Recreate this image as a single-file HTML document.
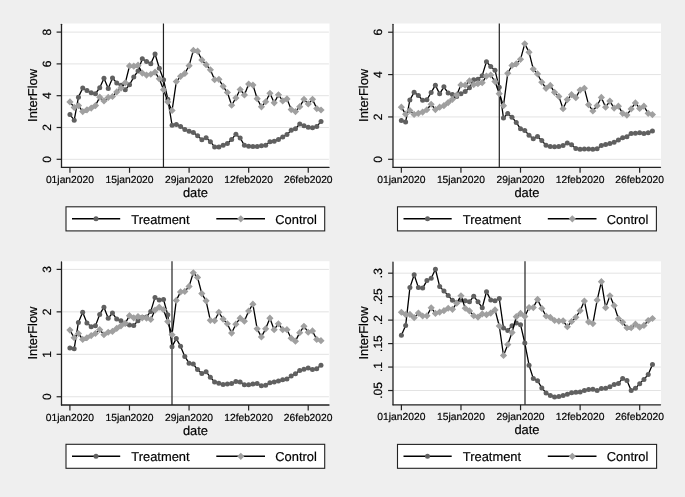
<!DOCTYPE html>
<html><head><meta charset="utf-8"><style>
html,body{margin:0;padding:0;background:#efefef;}
svg{display:block;will-change:transform;font-family:"Liberation Sans", sans-serif;}
text{fill:#000;stroke:#000;stroke-width:0.18px;text-rendering:geometricPrecision;}
</style></head><body>
<svg width="685" height="497" viewBox="0 0 685 497">
<rect x="0" y="0" width="685" height="497" fill="#efefef"/>
<rect x="61.5" y="23.5" width="268" height="143.9" fill="#fff"/>
<line x1="62.2" y1="159.3" x2="328.9" y2="159.3" stroke="#e3e3e3" stroke-width="1"/>
<line x1="62.2" y1="127.5" x2="328.9" y2="127.5" stroke="#e3e3e3" stroke-width="1"/>
<line x1="62.2" y1="95.7" x2="328.9" y2="95.7" stroke="#e3e3e3" stroke-width="1"/>
<line x1="62.2" y1="63.9" x2="328.9" y2="63.9" stroke="#e3e3e3" stroke-width="1"/>
<line x1="62.2" y1="32.1" x2="328.9" y2="32.1" stroke="#e3e3e3" stroke-width="1"/>
<line x1="163.45" y1="23.5" x2="163.45" y2="167.4" stroke="#222" stroke-width="1.2"/>
<polyline points="69.95,114.62 74.21,120.19 78.46,97.13 82.72,88.07 86.97,90.45 91.23,92.84 95.48,93.63 99.74,87.75 103.99,78.21 108.25,88.39 112.5,77.89 116.76,82.98 121.01,85.21 125.27,89.82 129.53,84.73 133.78,77.1 138.04,70.9 142.29,58.81 146.55,61.52 150.8,63.74 155.06,54.04 159.31,68.19 163.57,79.8 167.82,99.2 172.08,125.27 176.33,124.48 180.59,126.39 184.85,129.41 189.1,131.32 193.36,132.43 197.61,135.77 201.87,139.74 206.12,137.68 210.38,141.65 214.63,146.9 218.89,146.9 223.14,145.31 227.4,143.4 231.66,139.43 235.91,134.18 240.17,137.99 244.42,145.31 248.68,146.26 252.93,146.58 257.19,146.42 261.44,145.63 265.7,145.15 269.95,141.65 274.21,141.17 278.46,139.43 282.72,136.88 286.98,134.5 291.23,130.36 295.49,128.77 299.74,124 304,125.75 308.25,127.18 312.51,127.82 316.76,126.39 321.02,121.62" fill="none" stroke="#000" stroke-width="1.3" stroke-linejoin="round"/>
<circle cx="69.95" cy="114.62" r="2.5" fill="#606060"/>
<circle cx="74.21" cy="120.19" r="2.5" fill="#606060"/>
<circle cx="78.46" cy="97.13" r="2.5" fill="#606060"/>
<circle cx="82.72" cy="88.07" r="2.5" fill="#606060"/>
<circle cx="86.97" cy="90.45" r="2.5" fill="#606060"/>
<circle cx="91.23" cy="92.84" r="2.5" fill="#606060"/>
<circle cx="95.48" cy="93.63" r="2.5" fill="#606060"/>
<circle cx="99.74" cy="87.75" r="2.5" fill="#606060"/>
<circle cx="103.99" cy="78.21" r="2.5" fill="#606060"/>
<circle cx="108.25" cy="88.39" r="2.5" fill="#606060"/>
<circle cx="112.5" cy="77.89" r="2.5" fill="#606060"/>
<circle cx="116.76" cy="82.98" r="2.5" fill="#606060"/>
<circle cx="121.01" cy="85.21" r="2.5" fill="#606060"/>
<circle cx="125.27" cy="89.82" r="2.5" fill="#606060"/>
<circle cx="129.53" cy="84.73" r="2.5" fill="#606060"/>
<circle cx="133.78" cy="77.1" r="2.5" fill="#606060"/>
<circle cx="138.04" cy="70.9" r="2.5" fill="#606060"/>
<circle cx="142.29" cy="58.81" r="2.5" fill="#606060"/>
<circle cx="146.55" cy="61.52" r="2.5" fill="#606060"/>
<circle cx="150.8" cy="63.74" r="2.5" fill="#606060"/>
<circle cx="155.06" cy="54.04" r="2.5" fill="#606060"/>
<circle cx="159.31" cy="68.19" r="2.5" fill="#606060"/>
<circle cx="163.57" cy="79.8" r="2.5" fill="#606060"/>
<circle cx="167.82" cy="99.2" r="2.5" fill="#606060"/>
<circle cx="172.08" cy="125.27" r="2.5" fill="#606060"/>
<circle cx="176.33" cy="124.48" r="2.5" fill="#606060"/>
<circle cx="180.59" cy="126.39" r="2.5" fill="#606060"/>
<circle cx="184.85" cy="129.41" r="2.5" fill="#606060"/>
<circle cx="189.1" cy="131.32" r="2.5" fill="#606060"/>
<circle cx="193.36" cy="132.43" r="2.5" fill="#606060"/>
<circle cx="197.61" cy="135.77" r="2.5" fill="#606060"/>
<circle cx="201.87" cy="139.74" r="2.5" fill="#606060"/>
<circle cx="206.12" cy="137.68" r="2.5" fill="#606060"/>
<circle cx="210.38" cy="141.65" r="2.5" fill="#606060"/>
<circle cx="214.63" cy="146.9" r="2.5" fill="#606060"/>
<circle cx="218.89" cy="146.9" r="2.5" fill="#606060"/>
<circle cx="223.14" cy="145.31" r="2.5" fill="#606060"/>
<circle cx="227.4" cy="143.4" r="2.5" fill="#606060"/>
<circle cx="231.66" cy="139.43" r="2.5" fill="#606060"/>
<circle cx="235.91" cy="134.18" r="2.5" fill="#606060"/>
<circle cx="240.17" cy="137.99" r="2.5" fill="#606060"/>
<circle cx="244.42" cy="145.31" r="2.5" fill="#606060"/>
<circle cx="248.68" cy="146.26" r="2.5" fill="#606060"/>
<circle cx="252.93" cy="146.58" r="2.5" fill="#606060"/>
<circle cx="257.19" cy="146.42" r="2.5" fill="#606060"/>
<circle cx="261.44" cy="145.63" r="2.5" fill="#606060"/>
<circle cx="265.7" cy="145.15" r="2.5" fill="#606060"/>
<circle cx="269.95" cy="141.65" r="2.5" fill="#606060"/>
<circle cx="274.21" cy="141.17" r="2.5" fill="#606060"/>
<circle cx="278.46" cy="139.43" r="2.5" fill="#606060"/>
<circle cx="282.72" cy="136.88" r="2.5" fill="#606060"/>
<circle cx="286.98" cy="134.5" r="2.5" fill="#606060"/>
<circle cx="291.23" cy="130.36" r="2.5" fill="#606060"/>
<circle cx="295.49" cy="128.77" r="2.5" fill="#606060"/>
<circle cx="299.74" cy="124" r="2.5" fill="#606060"/>
<circle cx="304" cy="125.75" r="2.5" fill="#606060"/>
<circle cx="308.25" cy="127.18" r="2.5" fill="#606060"/>
<circle cx="312.51" cy="127.82" r="2.5" fill="#606060"/>
<circle cx="316.76" cy="126.39" r="2.5" fill="#606060"/>
<circle cx="321.02" cy="121.62" r="2.5" fill="#606060"/>
<polyline points="69.95,101.9 74.21,107.47 78.46,105.56 82.72,111.6 86.97,109.85 91.23,108.1 95.48,105.56 99.74,97.13 103.99,100.95 108.25,97.45 112.5,96.5 116.76,91.88 121.01,88.07 125.27,82.82 129.53,65.97 133.78,66.13 138.04,65.17 142.29,73.12 146.55,75.03 150.8,74.24 155.06,72.17 159.31,78.85 163.57,89.66 167.82,101.9 172.08,110.49 176.33,81.55 180.59,76.3 184.85,73.44 189.1,65.65 193.36,50.39 197.61,51.18 201.87,59.93 206.12,64.7 210.38,69.78 214.63,79.64 218.89,79.32 223.14,86.32 227.4,92.52 231.66,105.24 235.91,97.93 240.17,89.5 244.42,94.91 248.68,84.09 252.93,85.05 257.19,98.72 261.44,106.83 265.7,101.74 269.95,93.31 274.21,102.86 278.46,94.75 282.72,100.95 286.98,98.88 291.23,109.53 295.49,111.6 299.74,106.67 304,99.36 308.25,103.97 312.51,99.36 316.76,108.58 321.02,110.01" fill="none" stroke="#000" stroke-width="1.3" stroke-linejoin="round"/>
<path d="M69.95 98.3l3.6 3.6l-3.6 3.6l-3.6 -3.6zM74.21 103.87l3.6 3.6l-3.6 3.6l-3.6 -3.6zM78.46 101.96l3.6 3.6l-3.6 3.6l-3.6 -3.6zM82.72 108l3.6 3.6l-3.6 3.6l-3.6 -3.6zM86.97 106.25l3.6 3.6l-3.6 3.6l-3.6 -3.6zM91.23 104.5l3.6 3.6l-3.6 3.6l-3.6 -3.6zM95.48 101.96l3.6 3.6l-3.6 3.6l-3.6 -3.6zM99.74 93.53l3.6 3.6l-3.6 3.6l-3.6 -3.6zM103.99 97.35l3.6 3.6l-3.6 3.6l-3.6 -3.6zM108.25 93.85l3.6 3.6l-3.6 3.6l-3.6 -3.6zM112.5 92.9l3.6 3.6l-3.6 3.6l-3.6 -3.6zM116.76 88.28l3.6 3.6l-3.6 3.6l-3.6 -3.6zM121.01 84.47l3.6 3.6l-3.6 3.6l-3.6 -3.6zM125.27 79.22l3.6 3.6l-3.6 3.6l-3.6 -3.6zM129.53 62.37l3.6 3.6l-3.6 3.6l-3.6 -3.6zM133.78 62.53l3.6 3.6l-3.6 3.6l-3.6 -3.6zM138.04 61.57l3.6 3.6l-3.6 3.6l-3.6 -3.6zM142.29 69.52l3.6 3.6l-3.6 3.6l-3.6 -3.6zM146.55 71.43l3.6 3.6l-3.6 3.6l-3.6 -3.6zM150.8 70.64l3.6 3.6l-3.6 3.6l-3.6 -3.6zM155.06 68.57l3.6 3.6l-3.6 3.6l-3.6 -3.6zM159.31 75.25l3.6 3.6l-3.6 3.6l-3.6 -3.6zM163.57 86.06l3.6 3.6l-3.6 3.6l-3.6 -3.6zM167.82 98.3l3.6 3.6l-3.6 3.6l-3.6 -3.6zM172.08 106.89l3.6 3.6l-3.6 3.6l-3.6 -3.6zM176.33 77.95l3.6 3.6l-3.6 3.6l-3.6 -3.6zM180.59 72.7l3.6 3.6l-3.6 3.6l-3.6 -3.6zM184.85 69.84l3.6 3.6l-3.6 3.6l-3.6 -3.6zM189.1 62.05l3.6 3.6l-3.6 3.6l-3.6 -3.6zM193.36 46.79l3.6 3.6l-3.6 3.6l-3.6 -3.6zM197.61 47.58l3.6 3.6l-3.6 3.6l-3.6 -3.6zM201.87 56.33l3.6 3.6l-3.6 3.6l-3.6 -3.6zM206.12 61.1l3.6 3.6l-3.6 3.6l-3.6 -3.6zM210.38 66.18l3.6 3.6l-3.6 3.6l-3.6 -3.6zM214.63 76.04l3.6 3.6l-3.6 3.6l-3.6 -3.6zM218.89 75.72l3.6 3.6l-3.6 3.6l-3.6 -3.6zM223.14 82.72l3.6 3.6l-3.6 3.6l-3.6 -3.6zM227.4 88.92l3.6 3.6l-3.6 3.6l-3.6 -3.6zM231.66 101.64l3.6 3.6l-3.6 3.6l-3.6 -3.6zM235.91 94.33l3.6 3.6l-3.6 3.6l-3.6 -3.6zM240.17 85.9l3.6 3.6l-3.6 3.6l-3.6 -3.6zM244.42 91.31l3.6 3.6l-3.6 3.6l-3.6 -3.6zM248.68 80.49l3.6 3.6l-3.6 3.6l-3.6 -3.6zM252.93 81.45l3.6 3.6l-3.6 3.6l-3.6 -3.6zM257.19 95.12l3.6 3.6l-3.6 3.6l-3.6 -3.6zM261.44 103.23l3.6 3.6l-3.6 3.6l-3.6 -3.6zM265.7 98.14l3.6 3.6l-3.6 3.6l-3.6 -3.6zM269.95 89.72l3.6 3.6l-3.6 3.6l-3.6 -3.6zM274.21 99.26l3.6 3.6l-3.6 3.6l-3.6 -3.6zM278.46 91.15l3.6 3.6l-3.6 3.6l-3.6 -3.6zM282.72 97.35l3.6 3.6l-3.6 3.6l-3.6 -3.6zM286.98 95.28l3.6 3.6l-3.6 3.6l-3.6 -3.6zM291.23 105.93l3.6 3.6l-3.6 3.6l-3.6 -3.6zM295.49 108l3.6 3.6l-3.6 3.6l-3.6 -3.6zM299.74 103.07l3.6 3.6l-3.6 3.6l-3.6 -3.6zM304 95.76l3.6 3.6l-3.6 3.6l-3.6 -3.6zM308.25 100.37l3.6 3.6l-3.6 3.6l-3.6 -3.6zM312.51 95.76l3.6 3.6l-3.6 3.6l-3.6 -3.6zM316.76 104.98l3.6 3.6l-3.6 3.6l-3.6 -3.6zM321.02 106.41l3.6 3.6l-3.6 3.6l-3.6 -3.6z" fill="#a0a0a0"/>
<line x1="61.5" y1="24.3" x2="61.5" y2="167.4" stroke="#222" stroke-width="1.3" stroke-linecap="round"/>
<line x1="61.5" y1="167.4" x2="329" y2="167.4" stroke="#222" stroke-width="1.3" stroke-linecap="round"/>
<line x1="56.6" y1="159.3" x2="61.5" y2="159.3" stroke="#222" stroke-width="1.2"/>
<text transform="translate(50.7,159.3) rotate(-90)" text-anchor="middle" font-size="12.0">0</text>
<line x1="56.6" y1="127.5" x2="61.5" y2="127.5" stroke="#222" stroke-width="1.2"/>
<text transform="translate(50.7,127.5) rotate(-90)" text-anchor="middle" font-size="12.0">2</text>
<line x1="56.6" y1="95.7" x2="61.5" y2="95.7" stroke="#222" stroke-width="1.2"/>
<text transform="translate(50.7,95.7) rotate(-90)" text-anchor="middle" font-size="12.0">4</text>
<line x1="56.6" y1="63.9" x2="61.5" y2="63.9" stroke="#222" stroke-width="1.2"/>
<text transform="translate(50.7,63.9) rotate(-90)" text-anchor="middle" font-size="12.0">6</text>
<line x1="56.6" y1="32.1" x2="61.5" y2="32.1" stroke="#222" stroke-width="1.2"/>
<text transform="translate(50.7,32.1) rotate(-90)" text-anchor="middle" font-size="12.0">8</text>
<line x1="69.95" y1="167.4" x2="69.95" y2="172.8" stroke="#222" stroke-width="1.2"/>
<text x="69.95" y="183" text-anchor="middle" font-size="10.3">01jan2020</text>
<line x1="129.53" y1="167.4" x2="129.53" y2="172.8" stroke="#222" stroke-width="1.2"/>
<text x="129.53" y="183" text-anchor="middle" font-size="10.3">15jan2020</text>
<line x1="189.1" y1="167.4" x2="189.1" y2="172.8" stroke="#222" stroke-width="1.2"/>
<text x="189.1" y="183" text-anchor="middle" font-size="10.3">29jan2020</text>
<line x1="248.68" y1="167.4" x2="248.68" y2="172.8" stroke="#222" stroke-width="1.2"/>
<text x="248.68" y="183" text-anchor="middle" font-size="10.3">12feb2020</text>
<line x1="308.25" y1="167.4" x2="308.25" y2="172.8" stroke="#222" stroke-width="1.2"/>
<text x="308.25" y="183" text-anchor="middle" font-size="10.3">26feb2020</text>
<text x="195.5" y="197" text-anchor="middle" font-size="12.9">date</text>
<text transform="translate(36.7,95.45) rotate(-90)" text-anchor="middle" font-size="12.9">InterFlow</text>
<rect x="66" y="206.8" width="258.7" height="24.1" fill="#fff" stroke="#222" stroke-width="1.1"/>
<line x1="72" y1="218.85" x2="120.2" y2="218.85" stroke="#000" stroke-width="1.5"/>
<circle cx="96" cy="218.85" r="2.5" fill="#606060"/>
<text x="131.3" y="223.85" font-size="12.9">Treatment</text>
<line x1="216.3" y1="218.85" x2="265" y2="218.85" stroke="#000" stroke-width="1.5"/>
<path d="M240.8 215.25l3.6 3.6l-3.6 3.6l-3.6 -3.6z" fill="#a0a0a0"/>
<text x="275.3" y="223.85" font-size="12.9">Control</text>
<rect x="393" y="23.5" width="268" height="143.8" fill="#fff"/>
<line x1="393.7" y1="159.3" x2="660.8" y2="159.3" stroke="#e3e3e3" stroke-width="1"/>
<line x1="393.7" y1="116.94" x2="660.8" y2="116.94" stroke="#e3e3e3" stroke-width="1"/>
<line x1="393.7" y1="74.58" x2="660.8" y2="74.58" stroke="#e3e3e3" stroke-width="1"/>
<line x1="393.7" y1="32.22" x2="660.8" y2="32.22" stroke="#e3e3e3" stroke-width="1"/>
<line x1="499.3" y1="23.5" x2="499.3" y2="167.3" stroke="#222" stroke-width="1.2"/>
<polyline points="401.35,120.54 405.61,122.02 409.86,100 414.12,92.37 418.37,95.55 422.63,100.21 426.88,99.78 431.14,92.58 435.39,85.17 439.65,93.85 443.9,86.86 448.16,93.01 452.41,94.49 456.67,96.4 460.93,93.85 465.18,91.52 469.44,87.71 473.69,79.66 477.95,79.24 482.2,75.64 486.46,61.66 490.71,66.53 494.97,70.13 499.22,87.29 503.48,118 507.74,113.55 511.99,117.15 516.25,122.45 520.5,128.8 524.76,130.5 529.01,135.15 533.27,138.76 537.52,136.43 541.78,140.45 546.03,145.32 550.29,146.38 554.54,146.8 558.8,146.38 563.06,145.53 567.31,142.99 571.57,144.69 575.82,148.5 580.08,149.13 584.33,148.92 588.59,148.92 592.84,149.35 597.1,148.71 601.35,145.53 605.61,144.47 609.86,143.42 614.12,142.36 618.38,140.03 622.63,137.7 626.89,136.64 631.14,133.46 635.4,133.25 639.65,132.83 643.91,133.46 648.16,132.83 652.42,130.92" fill="none" stroke="#000" stroke-width="1.3" stroke-linejoin="round"/>
<circle cx="401.35" cy="120.54" r="2.5" fill="#606060"/>
<circle cx="405.61" cy="122.02" r="2.5" fill="#606060"/>
<circle cx="409.86" cy="100" r="2.5" fill="#606060"/>
<circle cx="414.12" cy="92.37" r="2.5" fill="#606060"/>
<circle cx="418.37" cy="95.55" r="2.5" fill="#606060"/>
<circle cx="422.63" cy="100.21" r="2.5" fill="#606060"/>
<circle cx="426.88" cy="99.78" r="2.5" fill="#606060"/>
<circle cx="431.14" cy="92.58" r="2.5" fill="#606060"/>
<circle cx="435.39" cy="85.17" r="2.5" fill="#606060"/>
<circle cx="439.65" cy="93.85" r="2.5" fill="#606060"/>
<circle cx="443.9" cy="86.86" r="2.5" fill="#606060"/>
<circle cx="448.16" cy="93.01" r="2.5" fill="#606060"/>
<circle cx="452.41" cy="94.49" r="2.5" fill="#606060"/>
<circle cx="456.67" cy="96.4" r="2.5" fill="#606060"/>
<circle cx="460.93" cy="93.85" r="2.5" fill="#606060"/>
<circle cx="465.18" cy="91.52" r="2.5" fill="#606060"/>
<circle cx="469.44" cy="87.71" r="2.5" fill="#606060"/>
<circle cx="473.69" cy="79.66" r="2.5" fill="#606060"/>
<circle cx="477.95" cy="79.24" r="2.5" fill="#606060"/>
<circle cx="482.2" cy="75.64" r="2.5" fill="#606060"/>
<circle cx="486.46" cy="61.66" r="2.5" fill="#606060"/>
<circle cx="490.71" cy="66.53" r="2.5" fill="#606060"/>
<circle cx="494.97" cy="70.13" r="2.5" fill="#606060"/>
<circle cx="499.22" cy="87.29" r="2.5" fill="#606060"/>
<circle cx="503.48" cy="118" r="2.5" fill="#606060"/>
<circle cx="507.74" cy="113.55" r="2.5" fill="#606060"/>
<circle cx="511.99" cy="117.15" r="2.5" fill="#606060"/>
<circle cx="516.25" cy="122.45" r="2.5" fill="#606060"/>
<circle cx="520.5" cy="128.8" r="2.5" fill="#606060"/>
<circle cx="524.76" cy="130.5" r="2.5" fill="#606060"/>
<circle cx="529.01" cy="135.15" r="2.5" fill="#606060"/>
<circle cx="533.27" cy="138.76" r="2.5" fill="#606060"/>
<circle cx="537.52" cy="136.43" r="2.5" fill="#606060"/>
<circle cx="541.78" cy="140.45" r="2.5" fill="#606060"/>
<circle cx="546.03" cy="145.32" r="2.5" fill="#606060"/>
<circle cx="550.29" cy="146.38" r="2.5" fill="#606060"/>
<circle cx="554.54" cy="146.8" r="2.5" fill="#606060"/>
<circle cx="558.8" cy="146.38" r="2.5" fill="#606060"/>
<circle cx="563.06" cy="145.53" r="2.5" fill="#606060"/>
<circle cx="567.31" cy="142.99" r="2.5" fill="#606060"/>
<circle cx="571.57" cy="144.69" r="2.5" fill="#606060"/>
<circle cx="575.82" cy="148.5" r="2.5" fill="#606060"/>
<circle cx="580.08" cy="149.13" r="2.5" fill="#606060"/>
<circle cx="584.33" cy="148.92" r="2.5" fill="#606060"/>
<circle cx="588.59" cy="148.92" r="2.5" fill="#606060"/>
<circle cx="592.84" cy="149.35" r="2.5" fill="#606060"/>
<circle cx="597.1" cy="148.71" r="2.5" fill="#606060"/>
<circle cx="601.35" cy="145.53" r="2.5" fill="#606060"/>
<circle cx="605.61" cy="144.47" r="2.5" fill="#606060"/>
<circle cx="609.86" cy="143.42" r="2.5" fill="#606060"/>
<circle cx="614.12" cy="142.36" r="2.5" fill="#606060"/>
<circle cx="618.38" cy="140.03" r="2.5" fill="#606060"/>
<circle cx="622.63" cy="137.7" r="2.5" fill="#606060"/>
<circle cx="626.89" cy="136.64" r="2.5" fill="#606060"/>
<circle cx="631.14" cy="133.46" r="2.5" fill="#606060"/>
<circle cx="635.4" cy="133.25" r="2.5" fill="#606060"/>
<circle cx="639.65" cy="132.83" r="2.5" fill="#606060"/>
<circle cx="643.91" cy="133.46" r="2.5" fill="#606060"/>
<circle cx="648.16" cy="132.83" r="2.5" fill="#606060"/>
<circle cx="652.42" cy="130.92" r="2.5" fill="#606060"/>
<polyline points="401.35,107.2 405.61,114.19 409.86,110.59 414.12,114.4 418.37,113.34 422.63,112.07 426.88,109.74 431.14,104.23 435.39,109.53 439.65,107.2 443.9,105.71 448.16,102.54 452.41,99.36 456.67,95.12 460.93,84.96 465.18,85.17 469.44,80.93 473.69,84.53 477.95,83.69 482.2,82.63 486.46,76.06 490.71,75 494.97,81.57 499.22,93.64 503.48,105.71 507.74,73.31 511.99,65.47 516.25,63.78 520.5,59.33 524.76,43.87 529.01,52.13 533.27,69.07 537.52,73.94 541.78,82.2 546.03,88.35 550.29,85.38 554.54,92.37 558.8,96.4 563.06,108.68 567.31,99.57 571.57,94.7 575.82,97.67 580.08,90.04 584.33,88.35 588.59,104.66 592.84,111.01 597.1,105.71 601.35,97.45 605.61,107.2 609.86,101.06 614.12,108.04 618.38,106.14 622.63,113.34 626.89,115.03 631.14,108.89 635.4,102.96 639.65,108.47 643.91,106.14 648.16,113.34 652.42,114.61" fill="none" stroke="#000" stroke-width="1.3" stroke-linejoin="round"/>
<path d="M401.35 103.6l3.6 3.6l-3.6 3.6l-3.6 -3.6zM405.61 110.59l3.6 3.6l-3.6 3.6l-3.6 -3.6zM409.86 106.99l3.6 3.6l-3.6 3.6l-3.6 -3.6zM414.12 110.8l3.6 3.6l-3.6 3.6l-3.6 -3.6zM418.37 109.74l3.6 3.6l-3.6 3.6l-3.6 -3.6zM422.63 108.47l3.6 3.6l-3.6 3.6l-3.6 -3.6zM426.88 106.14l3.6 3.6l-3.6 3.6l-3.6 -3.6zM431.14 100.63l3.6 3.6l-3.6 3.6l-3.6 -3.6zM435.39 105.93l3.6 3.6l-3.6 3.6l-3.6 -3.6zM439.65 103.6l3.6 3.6l-3.6 3.6l-3.6 -3.6zM443.9 102.11l3.6 3.6l-3.6 3.6l-3.6 -3.6zM448.16 98.94l3.6 3.6l-3.6 3.6l-3.6 -3.6zM452.41 95.76l3.6 3.6l-3.6 3.6l-3.6 -3.6zM456.67 91.52l3.6 3.6l-3.6 3.6l-3.6 -3.6zM460.93 81.36l3.6 3.6l-3.6 3.6l-3.6 -3.6zM465.18 81.57l3.6 3.6l-3.6 3.6l-3.6 -3.6zM469.44 77.33l3.6 3.6l-3.6 3.6l-3.6 -3.6zM473.69 80.93l3.6 3.6l-3.6 3.6l-3.6 -3.6zM477.95 80.09l3.6 3.6l-3.6 3.6l-3.6 -3.6zM482.2 79.03l3.6 3.6l-3.6 3.6l-3.6 -3.6zM486.46 72.46l3.6 3.6l-3.6 3.6l-3.6 -3.6zM490.71 71.4l3.6 3.6l-3.6 3.6l-3.6 -3.6zM494.97 77.97l3.6 3.6l-3.6 3.6l-3.6 -3.6zM499.22 90.04l3.6 3.6l-3.6 3.6l-3.6 -3.6zM503.48 102.11l3.6 3.6l-3.6 3.6l-3.6 -3.6zM507.74 69.71l3.6 3.6l-3.6 3.6l-3.6 -3.6zM511.99 61.87l3.6 3.6l-3.6 3.6l-3.6 -3.6zM516.25 60.18l3.6 3.6l-3.6 3.6l-3.6 -3.6zM520.5 55.73l3.6 3.6l-3.6 3.6l-3.6 -3.6zM524.76 40.27l3.6 3.6l-3.6 3.6l-3.6 -3.6zM529.01 48.53l3.6 3.6l-3.6 3.6l-3.6 -3.6zM533.27 65.47l3.6 3.6l-3.6 3.6l-3.6 -3.6zM537.52 70.34l3.6 3.6l-3.6 3.6l-3.6 -3.6zM541.78 78.6l3.6 3.6l-3.6 3.6l-3.6 -3.6zM546.03 84.75l3.6 3.6l-3.6 3.6l-3.6 -3.6zM550.29 81.78l3.6 3.6l-3.6 3.6l-3.6 -3.6zM554.54 88.77l3.6 3.6l-3.6 3.6l-3.6 -3.6zM558.8 92.8l3.6 3.6l-3.6 3.6l-3.6 -3.6zM563.06 105.08l3.6 3.6l-3.6 3.6l-3.6 -3.6zM567.31 95.97l3.6 3.6l-3.6 3.6l-3.6 -3.6zM571.57 91.1l3.6 3.6l-3.6 3.6l-3.6 -3.6zM575.82 94.07l3.6 3.6l-3.6 3.6l-3.6 -3.6zM580.08 86.44l3.6 3.6l-3.6 3.6l-3.6 -3.6zM584.33 84.75l3.6 3.6l-3.6 3.6l-3.6 -3.6zM588.59 101.06l3.6 3.6l-3.6 3.6l-3.6 -3.6zM592.84 107.41l3.6 3.6l-3.6 3.6l-3.6 -3.6zM597.1 102.11l3.6 3.6l-3.6 3.6l-3.6 -3.6zM601.35 93.85l3.6 3.6l-3.6 3.6l-3.6 -3.6zM605.61 103.6l3.6 3.6l-3.6 3.6l-3.6 -3.6zM609.86 97.46l3.6 3.6l-3.6 3.6l-3.6 -3.6zM614.12 104.44l3.6 3.6l-3.6 3.6l-3.6 -3.6zM618.38 102.54l3.6 3.6l-3.6 3.6l-3.6 -3.6zM622.63 109.74l3.6 3.6l-3.6 3.6l-3.6 -3.6zM626.89 111.43l3.6 3.6l-3.6 3.6l-3.6 -3.6zM631.14 105.29l3.6 3.6l-3.6 3.6l-3.6 -3.6zM635.4 99.36l3.6 3.6l-3.6 3.6l-3.6 -3.6zM639.65 104.87l3.6 3.6l-3.6 3.6l-3.6 -3.6zM643.91 102.54l3.6 3.6l-3.6 3.6l-3.6 -3.6zM648.16 109.74l3.6 3.6l-3.6 3.6l-3.6 -3.6zM652.42 111.01l3.6 3.6l-3.6 3.6l-3.6 -3.6z" fill="#a0a0a0"/>
<line x1="393" y1="24.3" x2="393" y2="167.3" stroke="#222" stroke-width="1.3" stroke-linecap="round"/>
<line x1="393" y1="167.3" x2="660.5" y2="167.3" stroke="#222" stroke-width="1.3" stroke-linecap="round"/>
<line x1="388.1" y1="159.3" x2="393" y2="159.3" stroke="#222" stroke-width="1.2"/>
<text transform="translate(382.2,159.3) rotate(-90)" text-anchor="middle" font-size="12.0">0</text>
<line x1="388.1" y1="116.94" x2="393" y2="116.94" stroke="#222" stroke-width="1.2"/>
<text transform="translate(382.2,116.94) rotate(-90)" text-anchor="middle" font-size="12.0">2</text>
<line x1="388.1" y1="74.58" x2="393" y2="74.58" stroke="#222" stroke-width="1.2"/>
<text transform="translate(382.2,74.58) rotate(-90)" text-anchor="middle" font-size="12.0">4</text>
<line x1="388.1" y1="32.22" x2="393" y2="32.22" stroke="#222" stroke-width="1.2"/>
<text transform="translate(382.2,32.22) rotate(-90)" text-anchor="middle" font-size="12.0">6</text>
<line x1="401.35" y1="167.3" x2="401.35" y2="172.7" stroke="#222" stroke-width="1.2"/>
<text x="401.35" y="182.9" text-anchor="middle" font-size="10.3">01jan2020</text>
<line x1="460.93" y1="167.3" x2="460.93" y2="172.7" stroke="#222" stroke-width="1.2"/>
<text x="460.93" y="182.9" text-anchor="middle" font-size="10.3">15jan2020</text>
<line x1="520.5" y1="167.3" x2="520.5" y2="172.7" stroke="#222" stroke-width="1.2"/>
<text x="520.5" y="182.9" text-anchor="middle" font-size="10.3">29jan2020</text>
<line x1="580.08" y1="167.3" x2="580.08" y2="172.7" stroke="#222" stroke-width="1.2"/>
<text x="580.08" y="182.9" text-anchor="middle" font-size="10.3">12feb2020</text>
<line x1="639.65" y1="167.3" x2="639.65" y2="172.7" stroke="#222" stroke-width="1.2"/>
<text x="639.65" y="182.9" text-anchor="middle" font-size="10.3">26feb2020</text>
<text x="527" y="196.9" text-anchor="middle" font-size="12.9">date</text>
<text transform="translate(368.2,95.4) rotate(-90)" text-anchor="middle" font-size="12.9">InterFlow</text>
<rect x="397.5" y="206.8" width="258.9" height="24.1" fill="#fff" stroke="#222" stroke-width="1.1"/>
<line x1="403.5" y1="218.85" x2="451.7" y2="218.85" stroke="#000" stroke-width="1.5"/>
<circle cx="427.5" cy="218.85" r="2.5" fill="#606060"/>
<text x="462.8" y="223.85" font-size="12.9">Treatment</text>
<line x1="547.8" y1="218.85" x2="596.5" y2="218.85" stroke="#000" stroke-width="1.5"/>
<path d="M572.3 215.25l3.6 3.6l-3.6 3.6l-3.6 -3.6z" fill="#a0a0a0"/>
<text x="606.8" y="223.85" font-size="12.9">Control</text>
<rect x="61.5" y="261.2" width="268" height="143.8" fill="#fff"/>
<line x1="62.2" y1="396.75" x2="328.9" y2="396.75" stroke="#e3e3e3" stroke-width="1"/>
<line x1="62.2" y1="354.3" x2="328.9" y2="354.3" stroke="#e3e3e3" stroke-width="1"/>
<line x1="62.2" y1="311.85" x2="328.9" y2="311.85" stroke="#e3e3e3" stroke-width="1"/>
<line x1="62.2" y1="269.4" x2="328.9" y2="269.4" stroke="#e3e3e3" stroke-width="1"/>
<line x1="172" y1="261.2" x2="172" y2="405" stroke="#222" stroke-width="1.2"/>
<polyline points="69.9,347.93 74.16,348.78 78.41,322.46 82.67,312.27 86.92,322.89 91.18,326.71 95.43,325.86 99.69,314.4 103.94,307.18 108.2,318.22 112.45,313.12 116.71,319.07 120.96,320.76 125.22,323.74 129.48,325.01 133.73,325.43 137.99,320.76 142.24,317.37 146.5,316.94 150.75,311.43 155.01,297.42 159.26,299.96 163.52,299.54 167.77,314.82 172.03,346.66 176.28,338.59 180.54,346.23 184.8,356.42 189.05,363.21 193.31,364.06 197.56,369.58 201.82,373.4 206.07,371.7 210.33,377.22 214.58,381.89 218.84,383.17 223.09,384.44 227.35,384.01 231.61,383.59 235.86,381.47 240.12,381.89 244.37,384.86 248.63,384.86 252.88,384.01 257.14,383.59 261.39,385.71 265.65,385.29 269.9,382.74 274.16,381.89 278.41,381.04 282.67,379.77 286.93,378.92 291.18,375.95 295.44,373.83 299.69,370.43 303.95,369.16 308.2,367.88 312.46,369.58 316.71,368.73 320.97,365.34" fill="none" stroke="#000" stroke-width="1.3" stroke-linejoin="round"/>
<circle cx="69.9" cy="347.93" r="2.5" fill="#606060"/>
<circle cx="74.16" cy="348.78" r="2.5" fill="#606060"/>
<circle cx="78.41" cy="322.46" r="2.5" fill="#606060"/>
<circle cx="82.67" cy="312.27" r="2.5" fill="#606060"/>
<circle cx="86.92" cy="322.89" r="2.5" fill="#606060"/>
<circle cx="91.18" cy="326.71" r="2.5" fill="#606060"/>
<circle cx="95.43" cy="325.86" r="2.5" fill="#606060"/>
<circle cx="99.69" cy="314.4" r="2.5" fill="#606060"/>
<circle cx="103.94" cy="307.18" r="2.5" fill="#606060"/>
<circle cx="108.2" cy="318.22" r="2.5" fill="#606060"/>
<circle cx="112.45" cy="313.12" r="2.5" fill="#606060"/>
<circle cx="116.71" cy="319.07" r="2.5" fill="#606060"/>
<circle cx="120.96" cy="320.76" r="2.5" fill="#606060"/>
<circle cx="125.22" cy="323.74" r="2.5" fill="#606060"/>
<circle cx="129.48" cy="325.01" r="2.5" fill="#606060"/>
<circle cx="133.73" cy="325.43" r="2.5" fill="#606060"/>
<circle cx="137.99" cy="320.76" r="2.5" fill="#606060"/>
<circle cx="142.24" cy="317.37" r="2.5" fill="#606060"/>
<circle cx="146.5" cy="316.94" r="2.5" fill="#606060"/>
<circle cx="150.75" cy="311.43" r="2.5" fill="#606060"/>
<circle cx="155.01" cy="297.42" r="2.5" fill="#606060"/>
<circle cx="159.26" cy="299.96" r="2.5" fill="#606060"/>
<circle cx="163.52" cy="299.54" r="2.5" fill="#606060"/>
<circle cx="167.77" cy="314.82" r="2.5" fill="#606060"/>
<circle cx="172.03" cy="346.66" r="2.5" fill="#606060"/>
<circle cx="176.28" cy="338.59" r="2.5" fill="#606060"/>
<circle cx="180.54" cy="346.23" r="2.5" fill="#606060"/>
<circle cx="184.8" cy="356.42" r="2.5" fill="#606060"/>
<circle cx="189.05" cy="363.21" r="2.5" fill="#606060"/>
<circle cx="193.31" cy="364.06" r="2.5" fill="#606060"/>
<circle cx="197.56" cy="369.58" r="2.5" fill="#606060"/>
<circle cx="201.82" cy="373.4" r="2.5" fill="#606060"/>
<circle cx="206.07" cy="371.7" r="2.5" fill="#606060"/>
<circle cx="210.33" cy="377.22" r="2.5" fill="#606060"/>
<circle cx="214.58" cy="381.89" r="2.5" fill="#606060"/>
<circle cx="218.84" cy="383.17" r="2.5" fill="#606060"/>
<circle cx="223.09" cy="384.44" r="2.5" fill="#606060"/>
<circle cx="227.35" cy="384.01" r="2.5" fill="#606060"/>
<circle cx="231.61" cy="383.59" r="2.5" fill="#606060"/>
<circle cx="235.86" cy="381.47" r="2.5" fill="#606060"/>
<circle cx="240.12" cy="381.89" r="2.5" fill="#606060"/>
<circle cx="244.37" cy="384.86" r="2.5" fill="#606060"/>
<circle cx="248.63" cy="384.86" r="2.5" fill="#606060"/>
<circle cx="252.88" cy="384.01" r="2.5" fill="#606060"/>
<circle cx="257.14" cy="383.59" r="2.5" fill="#606060"/>
<circle cx="261.39" cy="385.71" r="2.5" fill="#606060"/>
<circle cx="265.65" cy="385.29" r="2.5" fill="#606060"/>
<circle cx="269.9" cy="382.74" r="2.5" fill="#606060"/>
<circle cx="274.16" cy="381.89" r="2.5" fill="#606060"/>
<circle cx="278.41" cy="381.04" r="2.5" fill="#606060"/>
<circle cx="282.67" cy="379.77" r="2.5" fill="#606060"/>
<circle cx="286.93" cy="378.92" r="2.5" fill="#606060"/>
<circle cx="291.18" cy="375.95" r="2.5" fill="#606060"/>
<circle cx="295.44" cy="373.83" r="2.5" fill="#606060"/>
<circle cx="299.69" cy="370.43" r="2.5" fill="#606060"/>
<circle cx="303.95" cy="369.16" r="2.5" fill="#606060"/>
<circle cx="308.2" cy="367.88" r="2.5" fill="#606060"/>
<circle cx="312.46" cy="369.58" r="2.5" fill="#606060"/>
<circle cx="316.71" cy="368.73" r="2.5" fill="#606060"/>
<circle cx="320.97" cy="365.34" r="2.5" fill="#606060"/>
<polyline points="69.9,330.1 74.16,337.74 78.41,333.5 82.67,339.44 86.92,337.74 91.18,335.62 95.43,333.5 99.69,329.68 103.94,334.77 108.2,332.23 112.45,331.38 116.71,328.41 120.96,325.86 125.22,323.31 129.48,315.67 133.73,317.79 137.99,316.52 142.24,317.79 146.5,318.22 150.75,319.49 155.01,310.15 159.26,307.18 163.52,309.73 167.77,321.61 172.03,334.77 176.28,300.39 180.54,291.9 184.8,291.47 189.05,286.38 193.31,272.8 197.56,277.47 201.82,293.6 206.07,300.81 210.33,320.34 214.58,320.76 218.84,312.27 223.09,319.07 227.35,323.74 231.61,333.07 235.86,324.16 240.12,318.22 244.37,321.19 248.63,311 252.88,304.21 257.14,328.83 261.39,336.9 265.65,328.83 269.9,318.22 274.16,329.68 278.41,323.74 282.67,329.68 286.93,329.68 291.18,338.17 295.44,341.14 299.69,332.65 303.95,326.28 308.2,332.23 312.46,330.95 316.71,339.44 320.97,340.72" fill="none" stroke="#000" stroke-width="1.3" stroke-linejoin="round"/>
<path d="M69.9 326.5l3.6 3.6l-3.6 3.6l-3.6 -3.6zM74.16 334.14l3.6 3.6l-3.6 3.6l-3.6 -3.6zM78.41 329.9l3.6 3.6l-3.6 3.6l-3.6 -3.6zM82.67 335.84l3.6 3.6l-3.6 3.6l-3.6 -3.6zM86.92 334.14l3.6 3.6l-3.6 3.6l-3.6 -3.6zM91.18 332.02l3.6 3.6l-3.6 3.6l-3.6 -3.6zM95.43 329.9l3.6 3.6l-3.6 3.6l-3.6 -3.6zM99.69 326.08l3.6 3.6l-3.6 3.6l-3.6 -3.6zM103.94 331.17l3.6 3.6l-3.6 3.6l-3.6 -3.6zM108.2 328.63l3.6 3.6l-3.6 3.6l-3.6 -3.6zM112.45 327.78l3.6 3.6l-3.6 3.6l-3.6 -3.6zM116.71 324.81l3.6 3.6l-3.6 3.6l-3.6 -3.6zM120.96 322.26l3.6 3.6l-3.6 3.6l-3.6 -3.6zM125.22 319.71l3.6 3.6l-3.6 3.6l-3.6 -3.6zM129.48 312.07l3.6 3.6l-3.6 3.6l-3.6 -3.6zM133.73 314.19l3.6 3.6l-3.6 3.6l-3.6 -3.6zM137.99 312.92l3.6 3.6l-3.6 3.6l-3.6 -3.6zM142.24 314.19l3.6 3.6l-3.6 3.6l-3.6 -3.6zM146.5 314.62l3.6 3.6l-3.6 3.6l-3.6 -3.6zM150.75 315.89l3.6 3.6l-3.6 3.6l-3.6 -3.6zM155.01 306.55l3.6 3.6l-3.6 3.6l-3.6 -3.6zM159.26 303.58l3.6 3.6l-3.6 3.6l-3.6 -3.6zM163.52 306.13l3.6 3.6l-3.6 3.6l-3.6 -3.6zM167.77 318.01l3.6 3.6l-3.6 3.6l-3.6 -3.6zM172.03 331.17l3.6 3.6l-3.6 3.6l-3.6 -3.6zM176.28 296.79l3.6 3.6l-3.6 3.6l-3.6 -3.6zM180.54 288.3l3.6 3.6l-3.6 3.6l-3.6 -3.6zM184.8 287.87l3.6 3.6l-3.6 3.6l-3.6 -3.6zM189.05 282.78l3.6 3.6l-3.6 3.6l-3.6 -3.6zM193.31 269.2l3.6 3.6l-3.6 3.6l-3.6 -3.6zM197.56 273.87l3.6 3.6l-3.6 3.6l-3.6 -3.6zM201.82 290l3.6 3.6l-3.6 3.6l-3.6 -3.6zM206.07 297.21l3.6 3.6l-3.6 3.6l-3.6 -3.6zM210.33 316.74l3.6 3.6l-3.6 3.6l-3.6 -3.6zM214.58 317.16l3.6 3.6l-3.6 3.6l-3.6 -3.6zM218.84 308.67l3.6 3.6l-3.6 3.6l-3.6 -3.6zM223.09 315.47l3.6 3.6l-3.6 3.6l-3.6 -3.6zM227.35 320.14l3.6 3.6l-3.6 3.6l-3.6 -3.6zM231.61 329.47l3.6 3.6l-3.6 3.6l-3.6 -3.6zM235.86 320.56l3.6 3.6l-3.6 3.6l-3.6 -3.6zM240.12 314.62l3.6 3.6l-3.6 3.6l-3.6 -3.6zM244.37 317.59l3.6 3.6l-3.6 3.6l-3.6 -3.6zM248.63 307.4l3.6 3.6l-3.6 3.6l-3.6 -3.6zM252.88 300.61l3.6 3.6l-3.6 3.6l-3.6 -3.6zM257.14 325.23l3.6 3.6l-3.6 3.6l-3.6 -3.6zM261.39 333.3l3.6 3.6l-3.6 3.6l-3.6 -3.6zM265.65 325.23l3.6 3.6l-3.6 3.6l-3.6 -3.6zM269.9 314.62l3.6 3.6l-3.6 3.6l-3.6 -3.6zM274.16 326.08l3.6 3.6l-3.6 3.6l-3.6 -3.6zM278.41 320.14l3.6 3.6l-3.6 3.6l-3.6 -3.6zM282.67 326.08l3.6 3.6l-3.6 3.6l-3.6 -3.6zM286.93 326.08l3.6 3.6l-3.6 3.6l-3.6 -3.6zM291.18 334.57l3.6 3.6l-3.6 3.6l-3.6 -3.6zM295.44 337.54l3.6 3.6l-3.6 3.6l-3.6 -3.6zM299.69 329.05l3.6 3.6l-3.6 3.6l-3.6 -3.6zM303.95 322.68l3.6 3.6l-3.6 3.6l-3.6 -3.6zM308.2 328.63l3.6 3.6l-3.6 3.6l-3.6 -3.6zM312.46 327.35l3.6 3.6l-3.6 3.6l-3.6 -3.6zM316.71 335.84l3.6 3.6l-3.6 3.6l-3.6 -3.6zM320.97 337.12l3.6 3.6l-3.6 3.6l-3.6 -3.6z" fill="#a0a0a0"/>
<line x1="61.5" y1="262" x2="61.5" y2="405" stroke="#222" stroke-width="1.3" stroke-linecap="round"/>
<line x1="61.5" y1="405" x2="329" y2="405" stroke="#222" stroke-width="1.3" stroke-linecap="round"/>
<line x1="56.6" y1="396.75" x2="61.5" y2="396.75" stroke="#222" stroke-width="1.2"/>
<text transform="translate(50.7,396.75) rotate(-90)" text-anchor="middle" font-size="12.0">0</text>
<line x1="56.6" y1="354.3" x2="61.5" y2="354.3" stroke="#222" stroke-width="1.2"/>
<text transform="translate(50.7,354.3) rotate(-90)" text-anchor="middle" font-size="12.0">1</text>
<line x1="56.6" y1="311.85" x2="61.5" y2="311.85" stroke="#222" stroke-width="1.2"/>
<text transform="translate(50.7,311.85) rotate(-90)" text-anchor="middle" font-size="12.0">2</text>
<line x1="56.6" y1="269.4" x2="61.5" y2="269.4" stroke="#222" stroke-width="1.2"/>
<text transform="translate(50.7,269.4) rotate(-90)" text-anchor="middle" font-size="12.0">3</text>
<line x1="69.9" y1="405" x2="69.9" y2="410.4" stroke="#222" stroke-width="1.2"/>
<text x="69.9" y="420.6" text-anchor="middle" font-size="10.3">01jan2020</text>
<line x1="129.48" y1="405" x2="129.48" y2="410.4" stroke="#222" stroke-width="1.2"/>
<text x="129.48" y="420.6" text-anchor="middle" font-size="10.3">15jan2020</text>
<line x1="189.05" y1="405" x2="189.05" y2="410.4" stroke="#222" stroke-width="1.2"/>
<text x="189.05" y="420.6" text-anchor="middle" font-size="10.3">29jan2020</text>
<line x1="248.63" y1="405" x2="248.63" y2="410.4" stroke="#222" stroke-width="1.2"/>
<text x="248.63" y="420.6" text-anchor="middle" font-size="10.3">12feb2020</text>
<line x1="308.2" y1="405" x2="308.2" y2="410.4" stroke="#222" stroke-width="1.2"/>
<text x="308.2" y="420.6" text-anchor="middle" font-size="10.3">26feb2020</text>
<text x="195.5" y="434.6" text-anchor="middle" font-size="12.9">date</text>
<text transform="translate(36.7,333.1) rotate(-90)" text-anchor="middle" font-size="12.9">InterFlow</text>
<rect x="66" y="444.3" width="258.7" height="24" fill="#fff" stroke="#222" stroke-width="1.1"/>
<line x1="72" y1="456.3" x2="120.2" y2="456.3" stroke="#000" stroke-width="1.5"/>
<circle cx="96" cy="456.3" r="2.5" fill="#606060"/>
<text x="131.3" y="461.3" font-size="12.9">Treatment</text>
<line x1="216.3" y1="456.3" x2="265" y2="456.3" stroke="#000" stroke-width="1.5"/>
<path d="M240.8 452.7l3.6 3.6l-3.6 3.6l-3.6 -3.6z" fill="#a0a0a0"/>
<text x="275.3" y="461.3" font-size="12.9">Control</text>
<rect x="393" y="261.3" width="268" height="143.5" fill="#fff"/>
<line x1="393.7" y1="390.53" x2="660.8" y2="390.53" stroke="#e3e3e3" stroke-width="1"/>
<line x1="393.7" y1="367.06" x2="660.8" y2="367.06" stroke="#e3e3e3" stroke-width="1"/>
<line x1="393.7" y1="343.59" x2="660.8" y2="343.59" stroke="#e3e3e3" stroke-width="1"/>
<line x1="393.7" y1="320.12" x2="660.8" y2="320.12" stroke="#e3e3e3" stroke-width="1"/>
<line x1="393.7" y1="296.65" x2="660.8" y2="296.65" stroke="#e3e3e3" stroke-width="1"/>
<line x1="393.7" y1="273.18" x2="660.8" y2="273.18" stroke="#e3e3e3" stroke-width="1"/>
<line x1="525" y1="261.3" x2="525" y2="404.8" stroke="#222" stroke-width="1.2"/>
<polyline points="401.4,335.33 405.66,325.57 409.91,287.59 414.17,274.68 418.42,287.59 422.68,288.11 426.93,280.6 431.19,278.2 435.44,269.28 439.7,286.6 443.95,290.92 448.21,295.57 452.46,300.36 456.72,302.38 460.98,300.12 465.23,300.64 469.49,301.77 473.74,296.13 478,301.77 482.25,307.73 486.51,291.63 490.76,300.12 495.02,300.64 499.27,298.53 503.53,328.1 507.78,330.4 512.04,325.85 516.3,323.12 520.55,324.67 524.81,343.12 529.06,365.18 533.32,378.61 537.57,380.63 541.83,388.04 546.08,392.92 550.34,395.55 554.59,396.96 558.85,396.54 563.11,395.55 567.36,394.14 571.62,392.74 575.87,392.22 580.13,392.03 584.38,390.48 588.64,389.54 592.89,389.22 597.15,390.53 601.4,388.61 605.66,388.32 609.91,386.63 614.17,384.43 618.43,383.4 622.68,378.42 626.94,380.53 631.19,390.53 635.45,388.32 639.7,383.63 643.96,379.41 648.21,374.48 652.47,364.38" fill="none" stroke="#000" stroke-width="1.3" stroke-linejoin="round"/>
<circle cx="401.4" cy="335.33" r="2.5" fill="#606060"/>
<circle cx="405.66" cy="325.57" r="2.5" fill="#606060"/>
<circle cx="409.91" cy="287.59" r="2.5" fill="#606060"/>
<circle cx="414.17" cy="274.68" r="2.5" fill="#606060"/>
<circle cx="418.42" cy="287.59" r="2.5" fill="#606060"/>
<circle cx="422.68" cy="288.11" r="2.5" fill="#606060"/>
<circle cx="426.93" cy="280.6" r="2.5" fill="#606060"/>
<circle cx="431.19" cy="278.2" r="2.5" fill="#606060"/>
<circle cx="435.44" cy="269.28" r="2.5" fill="#606060"/>
<circle cx="439.7" cy="286.6" r="2.5" fill="#606060"/>
<circle cx="443.95" cy="290.92" r="2.5" fill="#606060"/>
<circle cx="448.21" cy="295.57" r="2.5" fill="#606060"/>
<circle cx="452.46" cy="300.36" r="2.5" fill="#606060"/>
<circle cx="456.72" cy="302.38" r="2.5" fill="#606060"/>
<circle cx="460.98" cy="300.12" r="2.5" fill="#606060"/>
<circle cx="465.23" cy="300.64" r="2.5" fill="#606060"/>
<circle cx="469.49" cy="301.77" r="2.5" fill="#606060"/>
<circle cx="473.74" cy="296.13" r="2.5" fill="#606060"/>
<circle cx="478" cy="301.77" r="2.5" fill="#606060"/>
<circle cx="482.25" cy="307.73" r="2.5" fill="#606060"/>
<circle cx="486.51" cy="291.63" r="2.5" fill="#606060"/>
<circle cx="490.76" cy="300.12" r="2.5" fill="#606060"/>
<circle cx="495.02" cy="300.64" r="2.5" fill="#606060"/>
<circle cx="499.27" cy="298.53" r="2.5" fill="#606060"/>
<circle cx="503.53" cy="328.1" r="2.5" fill="#606060"/>
<circle cx="507.78" cy="330.4" r="2.5" fill="#606060"/>
<circle cx="512.04" cy="325.85" r="2.5" fill="#606060"/>
<circle cx="516.3" cy="323.12" r="2.5" fill="#606060"/>
<circle cx="520.55" cy="324.67" r="2.5" fill="#606060"/>
<circle cx="524.81" cy="343.12" r="2.5" fill="#606060"/>
<circle cx="529.06" cy="365.18" r="2.5" fill="#606060"/>
<circle cx="533.32" cy="378.61" r="2.5" fill="#606060"/>
<circle cx="537.57" cy="380.63" r="2.5" fill="#606060"/>
<circle cx="541.83" cy="388.04" r="2.5" fill="#606060"/>
<circle cx="546.08" cy="392.92" r="2.5" fill="#606060"/>
<circle cx="550.34" cy="395.55" r="2.5" fill="#606060"/>
<circle cx="554.59" cy="396.96" r="2.5" fill="#606060"/>
<circle cx="558.85" cy="396.54" r="2.5" fill="#606060"/>
<circle cx="563.11" cy="395.55" r="2.5" fill="#606060"/>
<circle cx="567.36" cy="394.14" r="2.5" fill="#606060"/>
<circle cx="571.62" cy="392.74" r="2.5" fill="#606060"/>
<circle cx="575.87" cy="392.22" r="2.5" fill="#606060"/>
<circle cx="580.13" cy="392.03" r="2.5" fill="#606060"/>
<circle cx="584.38" cy="390.48" r="2.5" fill="#606060"/>
<circle cx="588.64" cy="389.54" r="2.5" fill="#606060"/>
<circle cx="592.89" cy="389.22" r="2.5" fill="#606060"/>
<circle cx="597.15" cy="390.53" r="2.5" fill="#606060"/>
<circle cx="601.4" cy="388.61" r="2.5" fill="#606060"/>
<circle cx="605.66" cy="388.32" r="2.5" fill="#606060"/>
<circle cx="609.91" cy="386.63" r="2.5" fill="#606060"/>
<circle cx="614.17" cy="384.43" r="2.5" fill="#606060"/>
<circle cx="618.43" cy="383.4" r="2.5" fill="#606060"/>
<circle cx="622.68" cy="378.42" r="2.5" fill="#606060"/>
<circle cx="626.94" cy="380.53" r="2.5" fill="#606060"/>
<circle cx="631.19" cy="390.53" r="2.5" fill="#606060"/>
<circle cx="635.45" cy="388.32" r="2.5" fill="#606060"/>
<circle cx="639.7" cy="383.63" r="2.5" fill="#606060"/>
<circle cx="643.96" cy="379.41" r="2.5" fill="#606060"/>
<circle cx="648.21" cy="374.48" r="2.5" fill="#606060"/>
<circle cx="652.47" cy="364.38" r="2.5" fill="#606060"/>
<polyline points="401.4,312.23 405.66,314.53 409.91,314.44 414.17,317.68 418.42,313.08 422.68,315.99 426.93,315.85 431.19,307.87 435.44,313.45 439.7,312.05 443.95,310.69 448.21,308.24 452.46,309.28 456.72,303.13 460.98,295.85 465.23,308.24 469.49,310.97 473.74,315.75 478,317.07 482.25,313.88 486.51,314.67 490.76,313.08 495.02,309.89 499.27,325.99 503.53,355.47 507.78,344.58 512.04,332.56 516.3,316.69 520.55,313.45 524.81,316.41 529.06,307.54 533.32,307.54 537.57,299.42 541.83,308.38 546.08,315.99 550.34,317.44 554.59,320.5 558.85,321.11 563.11,320.78 567.36,326.69 571.62,321.48 575.87,317.26 580.13,310.64 584.38,301.06 588.64,321.9 592.89,323.59 597.15,300.12 601.4,281.63 605.66,307.63 609.91,295.81 614.17,305.62 618.43,318.71 622.68,322.28 626.94,327.77 631.19,327.77 635.45,324.2 639.7,327.21 643.96,325.38 648.21,320.5 652.47,318.48" fill="none" stroke="#000" stroke-width="1.3" stroke-linejoin="round"/>
<path d="M401.4 308.63l3.6 3.6l-3.6 3.6l-3.6 -3.6zM405.66 310.93l3.6 3.6l-3.6 3.6l-3.6 -3.6zM409.91 310.84l3.6 3.6l-3.6 3.6l-3.6 -3.6zM414.17 314.08l3.6 3.6l-3.6 3.6l-3.6 -3.6zM418.42 309.48l3.6 3.6l-3.6 3.6l-3.6 -3.6zM422.68 312.39l3.6 3.6l-3.6 3.6l-3.6 -3.6zM426.93 312.25l3.6 3.6l-3.6 3.6l-3.6 -3.6zM431.19 304.27l3.6 3.6l-3.6 3.6l-3.6 -3.6zM435.44 309.85l3.6 3.6l-3.6 3.6l-3.6 -3.6zM439.7 308.45l3.6 3.6l-3.6 3.6l-3.6 -3.6zM443.95 307.09l3.6 3.6l-3.6 3.6l-3.6 -3.6zM448.21 304.64l3.6 3.6l-3.6 3.6l-3.6 -3.6zM452.46 305.68l3.6 3.6l-3.6 3.6l-3.6 -3.6zM456.72 299.53l3.6 3.6l-3.6 3.6l-3.6 -3.6zM460.98 292.25l3.6 3.6l-3.6 3.6l-3.6 -3.6zM465.23 304.64l3.6 3.6l-3.6 3.6l-3.6 -3.6zM469.49 307.37l3.6 3.6l-3.6 3.6l-3.6 -3.6zM473.74 312.15l3.6 3.6l-3.6 3.6l-3.6 -3.6zM478 313.47l3.6 3.6l-3.6 3.6l-3.6 -3.6zM482.25 310.28l3.6 3.6l-3.6 3.6l-3.6 -3.6zM486.51 311.07l3.6 3.6l-3.6 3.6l-3.6 -3.6zM490.76 309.48l3.6 3.6l-3.6 3.6l-3.6 -3.6zM495.02 306.29l3.6 3.6l-3.6 3.6l-3.6 -3.6zM499.27 322.39l3.6 3.6l-3.6 3.6l-3.6 -3.6zM503.53 351.87l3.6 3.6l-3.6 3.6l-3.6 -3.6zM507.78 340.98l3.6 3.6l-3.6 3.6l-3.6 -3.6zM512.04 328.96l3.6 3.6l-3.6 3.6l-3.6 -3.6zM516.3 313.09l3.6 3.6l-3.6 3.6l-3.6 -3.6zM520.55 309.85l3.6 3.6l-3.6 3.6l-3.6 -3.6zM524.81 312.81l3.6 3.6l-3.6 3.6l-3.6 -3.6zM529.06 303.94l3.6 3.6l-3.6 3.6l-3.6 -3.6zM533.32 303.94l3.6 3.6l-3.6 3.6l-3.6 -3.6zM537.57 295.82l3.6 3.6l-3.6 3.6l-3.6 -3.6zM541.83 304.78l3.6 3.6l-3.6 3.6l-3.6 -3.6zM546.08 312.39l3.6 3.6l-3.6 3.6l-3.6 -3.6zM550.34 313.84l3.6 3.6l-3.6 3.6l-3.6 -3.6zM554.59 316.9l3.6 3.6l-3.6 3.6l-3.6 -3.6zM558.85 317.51l3.6 3.6l-3.6 3.6l-3.6 -3.6zM563.11 317.18l3.6 3.6l-3.6 3.6l-3.6 -3.6zM567.36 323.09l3.6 3.6l-3.6 3.6l-3.6 -3.6zM571.62 317.88l3.6 3.6l-3.6 3.6l-3.6 -3.6zM575.87 313.66l3.6 3.6l-3.6 3.6l-3.6 -3.6zM580.13 307.04l3.6 3.6l-3.6 3.6l-3.6 -3.6zM584.38 297.46l3.6 3.6l-3.6 3.6l-3.6 -3.6zM588.64 318.3l3.6 3.6l-3.6 3.6l-3.6 -3.6zM592.89 319.99l3.6 3.6l-3.6 3.6l-3.6 -3.6zM597.15 296.52l3.6 3.6l-3.6 3.6l-3.6 -3.6zM601.4 278.03l3.6 3.6l-3.6 3.6l-3.6 -3.6zM605.66 304.03l3.6 3.6l-3.6 3.6l-3.6 -3.6zM609.91 292.21l3.6 3.6l-3.6 3.6l-3.6 -3.6zM614.17 302.02l3.6 3.6l-3.6 3.6l-3.6 -3.6zM618.43 315.11l3.6 3.6l-3.6 3.6l-3.6 -3.6zM622.68 318.68l3.6 3.6l-3.6 3.6l-3.6 -3.6zM626.94 324.17l3.6 3.6l-3.6 3.6l-3.6 -3.6zM631.19 324.17l3.6 3.6l-3.6 3.6l-3.6 -3.6zM635.45 320.6l3.6 3.6l-3.6 3.6l-3.6 -3.6zM639.7 323.61l3.6 3.6l-3.6 3.6l-3.6 -3.6zM643.96 321.78l3.6 3.6l-3.6 3.6l-3.6 -3.6zM648.21 316.9l3.6 3.6l-3.6 3.6l-3.6 -3.6zM652.47 314.88l3.6 3.6l-3.6 3.6l-3.6 -3.6z" fill="#a0a0a0"/>
<line x1="393" y1="262.1" x2="393" y2="404.8" stroke="#222" stroke-width="1.3" stroke-linecap="round"/>
<line x1="393" y1="404.8" x2="660.5" y2="404.8" stroke="#222" stroke-width="1.3" stroke-linecap="round"/>
<line x1="388.1" y1="390.53" x2="393" y2="390.53" stroke="#222" stroke-width="1.2"/>
<text transform="translate(382.2,390.53) rotate(-90)" text-anchor="middle" font-size="12.0">.05</text>
<line x1="388.1" y1="367.06" x2="393" y2="367.06" stroke="#222" stroke-width="1.2"/>
<text transform="translate(382.2,367.06) rotate(-90)" text-anchor="middle" font-size="12.0">.1</text>
<line x1="388.1" y1="343.59" x2="393" y2="343.59" stroke="#222" stroke-width="1.2"/>
<text transform="translate(382.2,343.59) rotate(-90)" text-anchor="middle" font-size="12.0">.15</text>
<line x1="388.1" y1="320.12" x2="393" y2="320.12" stroke="#222" stroke-width="1.2"/>
<text transform="translate(382.2,320.12) rotate(-90)" text-anchor="middle" font-size="12.0">.2</text>
<line x1="388.1" y1="296.65" x2="393" y2="296.65" stroke="#222" stroke-width="1.2"/>
<text transform="translate(382.2,296.65) rotate(-90)" text-anchor="middle" font-size="12.0">.25</text>
<line x1="388.1" y1="273.18" x2="393" y2="273.18" stroke="#222" stroke-width="1.2"/>
<text transform="translate(382.2,273.18) rotate(-90)" text-anchor="middle" font-size="12.0">.3</text>
<line x1="401.4" y1="404.8" x2="401.4" y2="410.2" stroke="#222" stroke-width="1.2"/>
<text x="401.4" y="420.4" text-anchor="middle" font-size="10.3">01jan2020</text>
<line x1="460.98" y1="404.8" x2="460.98" y2="410.2" stroke="#222" stroke-width="1.2"/>
<text x="460.98" y="420.4" text-anchor="middle" font-size="10.3">15jan2020</text>
<line x1="520.55" y1="404.8" x2="520.55" y2="410.2" stroke="#222" stroke-width="1.2"/>
<text x="520.55" y="420.4" text-anchor="middle" font-size="10.3">29jan2020</text>
<line x1="580.13" y1="404.8" x2="580.13" y2="410.2" stroke="#222" stroke-width="1.2"/>
<text x="580.13" y="420.4" text-anchor="middle" font-size="10.3">12feb2020</text>
<line x1="639.7" y1="404.8" x2="639.7" y2="410.2" stroke="#222" stroke-width="1.2"/>
<text x="639.7" y="420.4" text-anchor="middle" font-size="10.3">26feb2020</text>
<text x="527" y="434.4" text-anchor="middle" font-size="12.9">date</text>
<text transform="translate(368.2,333.05) rotate(-90)" text-anchor="middle" font-size="12.9">InterFlow</text>
<rect x="397.5" y="444.4" width="259.1" height="23.9" fill="#fff" stroke="#222" stroke-width="1.1"/>
<line x1="403.5" y1="456.35" x2="451.7" y2="456.35" stroke="#000" stroke-width="1.5"/>
<circle cx="427.5" cy="456.35" r="2.5" fill="#606060"/>
<text x="462.8" y="461.35" font-size="12.9">Treatment</text>
<line x1="547.8" y1="456.35" x2="596.5" y2="456.35" stroke="#000" stroke-width="1.5"/>
<path d="M572.3 452.75l3.6 3.6l-3.6 3.6l-3.6 -3.6z" fill="#a0a0a0"/>
<text x="606.8" y="461.35" font-size="12.9">Control</text>
</svg>
</body></html>
